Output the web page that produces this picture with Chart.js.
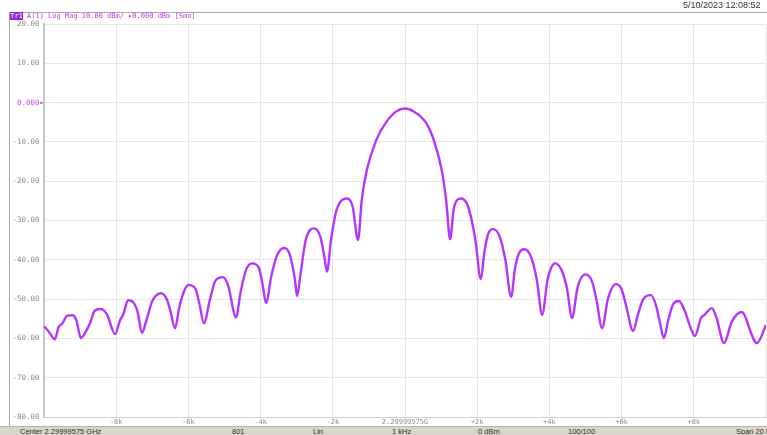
<!DOCTYPE html>
<html><head><meta charset="utf-8">
<script src="https://cdn.jsdelivr.net/npm/chart.js@4"></script>
<style>
html,body{margin:0;padding:0;background:#fff;}
#wrap{position:relative;width:767px;height:435px;overflow:hidden;background:#fff;}
canvas{position:absolute;left:0;top:0;}
.t{position:absolute;white-space:nowrap;}
.s{position:absolute;top:0;white-space:nowrap;font:7.5px 'Liberation Sans',sans-serif;color:#333;line-height:9px;}
</style></head><body>
<div id="wrap">
<canvas id="c" width="767" height="435"></canvas>
<div style="position:absolute;left:9px;top:12px;width:758px;height:1px;background:#a9a9a9"></div>
<div style="position:absolute;left:9px;top:12px;width:1px;height:414px;background:#a9a9a9"></div>
<div class="t" style="left:683px;top:0px;font:9px 'Liberation Sans',sans-serif;color:#333;line-height:11px;">5/10/2023 12:08:52</div>
<div class="t" style="left:10px;top:12px;width:13px;height:8px;background:#9a22d8;color:#fff;font:7px 'DejaVu Sans Mono',monospace;line-height:8px;text-align:center;">Tr1</div>
<div class="t" style="left:27px;top:12px;color:#b53cf2;font:7px 'DejaVu Sans Mono',monospace;line-height:8px;">A(1) Log Mag 10.00 dBm/ ▸0.000 dBm [Smo]</div>
<div style="position:absolute;left:0;top:426px;width:767px;height:9px;background:#d9d5cb;border-top:1px solid #b8b4aa;">
<span class="s" style="left:20px">Center 2.29999575 GHz</span>
<span class="s" style="left:232px">801</span>
<span class="s" style="left:313px">Lin</span>
<span class="s" style="left:392px">1 kHz</span>
<span class="s" style="left:478px">0 dBm</span>
<span class="s" style="left:568px">100/100</span>
<span class="s" style="left:736px">Span 20 kHz</span>
</div>
</div>
<script>
// Frequency offset from center (kHz) and magnitude (dB)
const freqKHz = [
 -10.0,-9.85,-9.7,-9.6,-9.5,-9.35,-9.2,-9.1,-8.98,-8.85,-8.72,-8.6,-8.45,-8.35,-8.25,-8.03,
 -7.9,-7.8,-7.67,-7.52,-7.4,-7.29,-7.15,-7.0,-6.76,-6.6,-6.5,-6.37,-6.25,-6.12,-6.0,-5.8,-5.7,-5.57,
 -5.4,-5.25,-5.04,-4.9,-4.68,-4.55,-4.4,-4.24,-4.05,-3.95,-3.85,-3.7,-3.55,-3.35,-3.2,-3.05,-2.99,
 -2.9,-2.75,-2.52,-2.35,-2.22,-2.16,-2.05,-1.9,-1.6,-1.45,-1.3,-1.2,-1.06,-0.8,-0.53,-0.25,0,
 0.25,0.58,0.8,1.02,1.14,1.25,1.35,1.55,1.75,1.95,2.1,2.2,2.3,2.44,2.62,2.78,2.94,3.05,3.15,3.3,
 3.48,3.65,3.8,3.95,4.05,4.16,4.33,4.48,4.63,4.78,5.0,5.18,5.3,5.46,5.62,5.84,6.0,6.12,6.32,6.45,
 6.6,6.81,6.95,7.05,7.17,7.3,7.45,7.59,7.75,7.88,8.03,8.2,8.3,8.5,8.62,8.84,9.05,9.33,9.45,9.52,9.75,10.0
];
const traceDb = [
 -56.9,-58.5,-60.2,-57.2,-56.3,-54.2,-54.1,-55.5,-59.9,-58.4,-56.0,-53.0,-52.5,-52.8,-54.0,-58.9,
 -55.5,-53.8,-50.3,-50.9,-53.5,-58.6,-55.0,-50.5,-48.5,-50.0,-53.0,-57.4,-52.0,-48.0,-46.4,-47.5,-51.0,-56.1,
 -50.0,-45.3,-44.4,-46.5,-54.6,-48.0,-42.5,-40.9,-42.0,-46.0,-51.0,-44.0,-39.0,-37.0,-38.5,-45.0,-49.2,
 -44.0,-35.0,-32.0,-34.0,-40.0,-43.0,-35.0,-27.5,-24.4,-26.5,-35.0,-24.9,-17.3,-9.6,-5.1,-2.3,-1.5,
 -2.3,-5.1,-9.6,-17.3,-24.9,-34.8,-27.0,-24.4,-26.5,-35.0,-44.9,-38.0,-33.5,-32.2,-34.0,-40.0,-49.4,-42.0,-38.5,-37.3,
 -39.0,-45.0,-54.0,-45.0,-42.0,-40.9,-42.5,-47.0,-54.8,-47.0,-43.7,-45.5,-50.0,-57.4,-50.0,-46.2,-47.5,-51.5,-58.1,-54.0,
 -50.0,-49.0,-51.5,-55.5,-59.9,-55.0,-51.0,-50.5,-53.0,-56.5,-59.4,-54.8,-54.0,-52.3,-54.5,-61.2,-55.8,-53.3,-55.0,-57.0,-61.2,-56.6
];
const xTickValues = [-10,-8,-6,-4,-2,0,2,4,6,8,10];
const xTickLabels = ["","-8k","-6k","-4k","-2k","2.29999575G","+2k","+4k","+6k","+8k",""];
const yTickValues = [-80,-70,-60,-50,-40,-30,-20,-10,0,10,20];

const points = freqKHz.map((f,i)=>({x:f,y:traceDb[i]}));
const mono = "'DejaVu Sans Mono', monospace";

new Chart(document.getElementById('c'), {
  type:'line',
  data:{datasets:[{data:points,borderColor:'#b536fb',borderWidth:2.4,pointRadius:0,
    cubicInterpolationMode:'monotone',fill:false}]},
  options:{
    responsive:false, animation:false, devicePixelRatio:1,
    layout:{padding:{top:24,bottom:9,left:0,right:0}},
    plugins:{legend:{display:false},tooltip:{enabled:false}},
    scales:{
      x:{type:'linear',min:-10,max:10,
        afterBuildTicks:s=>{s.ticks=xTickValues.map(v=>({value:v}));},
        afterFit:s=>{s.height=9;},
        grid:{color:'#e6e6e6',lineWidth:1,drawTicks:false},
        border:{display:true,color:'#d0d0d0',width:1},
        ticks:{autoSkip:false,maxRotation:0,minRotation:0,padding:1,color:'#8a8a8a',
          font:{family:mono,size:7},callback:(v,i)=>xTickLabels[i]}
      },
      y:{type:'linear',min:-80,max:20,
        afterBuildTicks:s=>{s.ticks=yTickValues.map(v=>({value:v}));},
        afterFit:s=>{s.width=44;},
        grid:{color:'#e6e6e6',lineWidth:1,drawTicks:false},
        border:{display:true,color:'#c8c8c8',width:2},
        ticks:{padding:0,font:{family:mono,size:7.5},
          color:c=>c.tick && c.tick.value===0 ? '#c03cf5' : '#8a8a8a',
          callback:v=> v===0 ? '0.000▸' : v.toFixed(2)+' '}
      }
    }
  }
});
</script>
</body></html>
